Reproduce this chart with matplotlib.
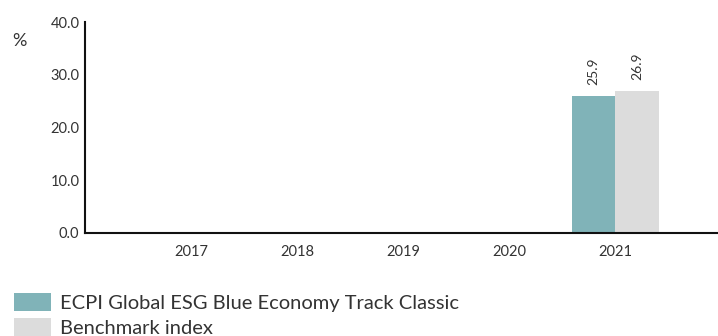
import numpy as np
import matplotlib.pyplot as plt

years = ['2017', '2018', '2019', '2020', '2021']
ecpi = [np.nan, np.nan, np.nan, np.nan, 25.9]
bench = [np.nan, np.nan, np.nan, np.nan, 26.9]
series_names = ['ECPI Global ESG Blue Economy Track Classic', 'Benchmark index']
yticks = [0, 10, 20, 30, 40]

plt.rcParams['font.family'] = ['Lato', 'DejaVu Sans']
text_col = '#333333'

fig = plt.figure(figsize=(7.18, 3.36), dpi=100)
ax = fig.add_axes([85 / 718, 103 / 336, 633 / 718, 211 / 336])

x = np.arange(len(years))
w = 0.41
b1 = ax.bar(x - w / 2, ecpi, w, color='#80b3b8', label=series_names[0])
b2 = ax.bar(x + w / 2, bench, w, color='#dcdcdc', label=series_names[1])

for bars, vals in ((b1, ecpi), (b2, bench)):
    for rect, v in zip(bars, vals):
        if np.isnan(v):
            continue
        ax.annotate(f'{v:.1f}', (rect.get_x() + rect.get_width() / 2, v),
                    xytext=(0, 8), textcoords='offset points',
                    rotation=90, ha='center', va='bottom',
                    fontsize=10, color=text_col)

ax.set_xlim(-1, 4.97)
ax.set_ylim(0, 40)
ax.set_xticks(x)
ax.set_xticklabels(years)
ax.set_yticks(yticks)
ax.set_yticklabels([f'{t:.1f}' for t in yticks])
ax.tick_params(length=0, labelsize=10.5, colors=text_col, pad=9)
ax.tick_params(axis='y', pad=4)
for s in ('top', 'right'):
    ax.spines[s].set_visible(False)
for s in ('left', 'bottom'):
    ax.spines[s].set_linewidth(1.5)
    ax.spines[s].set_color('#111111')

fig.text(12 / 718, 1 - 46 / 336, '%', fontsize=13, color=text_col)

fig.legend(handles=[b1, b2], loc='upper left',
           bbox_to_anchor=(6 / 718, 1 - 285 / 336), frameon=False,
           fontsize=14.5, handlelength=1.85, handleheight=1.0,
           handletextpad=0.45, labelspacing=0.3, borderaxespad=0,
           labelcolor=text_col)

fig.savefig('out.png', dpi=100)
